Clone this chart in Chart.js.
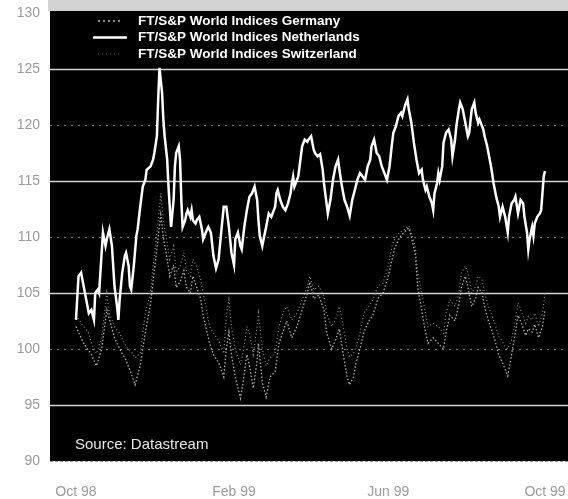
<!DOCTYPE html>
<html><head><meta charset="utf-8">
<script src="https://cdn.jsdelivr.net/npm/chart.js@4/dist/chart.umd.min.js"></script>
<style>html,body{margin:0;padding:0;background:#fff}canvas{display:block}</style>
</head><body>
<canvas id="c" width="568" height="499"></canvas>
<script>
// Series names (legend order)
const seriesNames = ['FT/S&P World Indices Germany', 'FT/S&P World Indices Netherlands', 'FT/S&P World Indices Switzerland'];
const sourceNote = 'Source: Datastream';
// x values: days since 1 Oct 1998
const tickDays = [0, 123, 243, 365];
const tickLabels = ['Oct 98', 'Feb 99', 'Jun 99', 'Oct 99'];
const yTicks = [90, 95, 100, 105, 110, 115, 120, 125, 130];

const nlDays = [0,2,4,6,8,10,12,14,15,17,
18,20,21,23,24,26,28,29,30,32,
33,34,36,38,39,41,42,43,45,47,
48,50,52,54,55,58,60,61,63,64,
65,67,68,69,71,72,73,74,76,77,
78,80,81,82,83,85,86,87,89,90,
91,93,94,96,98,99,101,103,105,107,
109,111,113,115,117,119,121,123,124,126,
128,129,131,133,135,137,139,141,142,143,
145,146,148,150,152,154,155,156,157,159,
161,163,165,167,168,169,170,173,174,176,
178,180,181,183,185,186,188,190,192,193,
195,196,198,200,202,204,205,207,209,211,
213,215,217,219,221,223,225,227,229,230,
232,234,236,238,240,242,244,246,247,249,
251,253,254,256,258,259,261,263,265,267,
269,270,272,273,275,277,278,279,281,282,
283,285,286,288,290,292,293,295,296,298,
299,301,303,305,306,308,310,311,313,314,
317,318,320,322,323,325,327,329,330,332,
334,336,337,339,341,342,344,346,348,349,
351,352,353,355,356,357,359,361,362,363,
364,365];
const nlValues = [102.6,106.5,106.8,105.6,104.4,103.2,103.5,102.6,105.0,105.3,
105.0,108.6,110.4,109.2,109.8,110.7,109.2,107.4,105.6,103.8,
102.6,104.4,106.8,108.3,108.6,107.4,105.6,105.3,107.4,110.1,
110.7,112.7,114.5,115.1,116.0,116.3,116.9,117.5,119.0,122.3,
125.1,122.9,120.5,119.0,116.9,114.5,112.7,110.9,113.3,116.3,
117.5,118.1,116.9,113.3,110.9,111.5,112.1,112.4,111.8,112.4,
111.5,111.2,111.5,111.8,110.7,109.8,110.4,110.9,110.4,108.3,
107.2,108.0,110.4,112.7,112.7,110.9,108.6,107.5,109.8,110.4,
109.2,108.9,110.9,112.4,113.6,113.9,114.5,113.3,111.5,110.1,
109.2,109.8,110.9,112.1,111.8,112.4,112.7,113.9,114.2,113.3,
112.7,112.4,113.0,113.9,114.8,115.4,114.5,115.4,116.3,118.1,
118.7,118.5,118.7,119.0,117.8,117.5,117.2,117.4,116.0,114.8,
113.0,112.1,113.3,115.1,116.3,116.9,116.0,114.5,113.3,112.7,
111.9,113.3,114.2,115.1,115.7,115.4,115.1,116.3,116.9,118.1,
118.7,117.5,117.2,116.3,115.7,115.1,116.3,118.4,119.3,119.9,
120.8,121.1,120.8,121.7,122.3,121.4,120.2,118.4,116.9,115.7,
116.0,115.1,114.2,114.5,113.6,113.0,112.4,113.9,114.8,115.7,
115.1,116.3,118.4,119.3,119.6,118.7,117.2,118.7,119.9,121.4,
122.0,121.4,120.2,119.0,119.3,121.4,122.0,121.1,120.2,120.5,
119.6,119.0,118.1,116.9,116.3,114.8,113.6,112.7,111.8,112.7,
111.8,110.4,111.8,113.0,113.3,113.6,112.1,113.3,113.0,111.8,
110.4,108.9,109.8,110.9,110.1,111.2,111.8,112.1,112.4,113.9,
115.4,115.9];

const chDays = [0,6,10,12,16,20,24,26,30,34,
39,43,46,50,54,58,60,64,66,68,
71,73,76,78,81,84,86,89,91,94,
97,99,102,104,107,111,115,117,119,121,
124,128,130,133,135,138,141,142,145,148,
151,155,158,161,164,168,172,176,180,182,
185,189,193,195,199,202,205,208,211,213,
216,218,221,224,228,231,235,239,243,246,
248,252,256,259,261,264,266,269,272,274,
278,282,286,288,291,295,298,300,303,305,
308,311,313,316,318,321,324,326,329,331,
334,336,339,342,344,347,350,352,355,357,
360,363,365];
const chValues = [103,102,101.4,100.5,99.6,101,105,103.2,102,101.4,
100.2,99.8,99.2,99.6,103.2,105,107.4,111.5,113.9,111.5,
109.5,108,109.2,106.8,107.4,108.6,107,106.5,108,107.4,
106.2,105,103.2,102,101.4,100.8,99.6,103,104.4,102,
100,98.6,99.6,102,101.4,99.5,102,103.2,100,98.5,
99.2,99.6,102,103.2,103.8,102.6,103.2,104.4,105.6,106.5,
105.3,105.6,104.7,103.2,102,102.6,103.8,102,100,99.3,
99.6,100.2,101.4,103.2,103.8,104.4,105.6,105.9,107.4,109.2,
109.8,110.4,110.7,111,110.4,109.2,106.8,105,103.2,102,
102.3,102,101.4,103.2,104.4,103.8,105,106.8,107.4,106.8,
105,105.6,106.5,106.2,105,103.8,102.9,102.3,101.1,100.8,
100.2,100,100.8,102.6,104.1,103.2,102.3,102.9,102.6,103.2,
102,103.2,105];

const deDays = [0,6,12,16,20,24,30,34,39,43,
46,50,54,58,60,64,66,68,71,73,
76,78,81,84,86,89,91,94,97,99,
102,104,107,111,115,117,119,121,124,128,
130,133,135,138,141,142,145,148,151,155,
158,161,164,168,172,176,180,182,185,189,
193,195,199,202,205,208,211,213,216,218,
221,224,228,231,235,239,243,246,248,252,
256,259,261,264,266,269,272,274,278,282,
286,288,291,295,298,300,303,305,308,311,
313,316,318,321,324,326,329,331,334,336,
339,342,344,347,350,352,355,357,360,363,
365];
const deValues = [102,100.5,99.5,98.5,100,103.5,101,100,99,97.8,
96.8,98.5,101.5,104,106,110,112,110,108,106.5,
107.5,105.5,106,107,105.5,105,106.5,105.5,104.5,103,
101.5,100.5,99.5,98.8,97.5,100,101.5,99.5,97.5,95.6,
97,99.5,98.5,96.5,99,100.5,97,95.7,97.5,98,
100.5,101.5,102.5,101,102,103.5,105,106,104.5,104.8,
103.5,101.5,100,100.8,101.8,99.5,97.5,96.8,97.5,98.8,
100,101.5,102.5,103,104.5,105,106.5,108,109,110,
110.5,110.8,110,108.5,105.5,103.5,101.5,100.5,101,100.5,
100,101.5,103,102.5,104,105.5,106.5,105.5,103.8,104.5,
105.5,105,103.8,102.5,101.5,100.8,99.5,99,98.2,97.6,
99.5,101.5,103,102.2,101.2,101.8,101.5,102.2,101,102,
103.5];

const toPoints = (xs, ys) => xs.map((x, i) => ({ x: x, y: ys[i] }));

const chartDecor = {
  id: 'chartDecor',
  beforeDraw(chart) {
    const { ctx, chartArea: a, scales: { y } } = chart;
    ctx.save();
    ctx.fillStyle = '#ffffff';
    ctx.fillRect(0, 0, chart.width, chart.height);
    ctx.fillStyle = '#d2d2d2';
    ctx.fillRect(a.left - 2, 0, a.right - a.left + 2, a.top - 2);
    ctx.fillStyle = '#000000';
    ctx.fillRect(a.left, a.top - 2, a.right - a.left, a.bottom - a.top + 2);
    yTicks.forEach(v => {
      if (v === 130) return;
      const py = Math.round(y.getPixelForValue(v)) + 0.5;
      ctx.beginPath();
      if (v % 10 === 5) {
        ctx.setLineDash([]);
        ctx.strokeStyle = '#d4d4d4';
        ctx.lineWidth = 1.4;
      } else if (v === 90) {
        ctx.setLineDash([3, 2]);
        ctx.strokeStyle = '#9a9a9a';
        ctx.lineWidth = 1;
      } else {
        ctx.setLineDash([2, 5]);
        ctx.strokeStyle = '#7a7a7a';
        ctx.lineWidth = 1;
      }
      ctx.moveTo(a.left, py);
      ctx.lineTo(a.right, py);
      ctx.stroke();
    });
    ctx.restore();
  },
  afterDatasetsDraw(chart) {
    const { ctx } = chart;
    ctx.save();
    const rows = [21, 37.5, 54];
    const styles = [
      { color: '#b4b4b4', width: 1.5, dash: [2, 3], x1: 98, x2: 120 },
      { color: '#ffffff', width: 2.4, dash: [], x1: 93, x2: 127 },
      { color: '#555555', width: 1, dash: [1, 3], x1: 98, x2: 120 }
    ];
    ctx.font = 'bold 13.5px "Liberation Sans", Arial, sans-serif';
    ctx.textBaseline = 'middle';
    ctx.textAlign = 'left';
    seriesNames.forEach((name, i) => {
      const s = styles[i];
      ctx.beginPath();
      ctx.setLineDash(s.dash);
      ctx.strokeStyle = s.color;
      ctx.lineWidth = s.width;
      ctx.moveTo(s.x1, rows[i]);
      ctx.lineTo(s.x2, rows[i]);
      ctx.stroke();
      ctx.fillStyle = '#ffffff';
      ctx.fillText(name, 138, rows[i]);
    });
    ctx.setLineDash([]);
    ctx.font = '15px "Liberation Sans", Arial, sans-serif';
    ctx.fillStyle = '#e6e6e6';
    ctx.fillText(sourceNote, 75, 445);
    ctx.restore();
  }
};

const noPad = s => { s.paddingLeft = 0; s.paddingRight = 0; s.paddingTop = 0; s.paddingBottom = 0; };

new Chart(document.getElementById('c'), {
  type: 'line',
  data: {
    datasets: [
      { label: seriesNames[0], data: toPoints(deDays, deValues), borderColor: '#b0b0b0', borderWidth: 1.3, borderDash: [1.5, 2], pointRadius: 0, order: 2 },
      { label: seriesNames[1], data: toPoints(nlDays, nlValues), borderColor: '#ffffff', borderWidth: 2.5, pointRadius: 0, order: 0 },
      { label: seriesNames[2], data: toPoints(chDays, chValues), borderColor: '#8e8e8e', borderWidth: 1.2, borderDash: [1, 2.5], pointRadius: 0, order: 1 }
    ]
  },
  options: {
    responsive: false,
    animation: false,
    devicePixelRatio: 1,
    layout: { padding: { top: 13, right: 0, left: 0, bottom: 0 } },
    plugins: { legend: { display: false }, tooltip: { enabled: false } },
    elements: { line: { tension: 0 } },
    scales: {
      x: {
        type: 'linear',
        min: -20.2,
        max: 382.9,
        grid: { display: false, drawTicks: false },
        border: { display: false },
        afterBuildTicks: s => { s.ticks = tickDays.map(v => ({ value: v })); },
        afterFit: s => { s.height = 38; noPad(s); },
        ticks: {
          autoSkip: false, maxRotation: 0, padding: 23,
          color: '#9a9a9a',
          font: { family: '"Liberation Sans", Arial, sans-serif', size: 14 },
          callback: v => { const i = tickDays.indexOf(v); return i >= 0 ? tickLabels[i] : ''; }
        }
      },
      y: {
        min: 90,
        max: 130,
        grid: { display: false, drawTicks: false },
        border: { display: false },
        afterBuildTicks: s => { s.ticks = yTicks.map(v => ({ value: v })); },
        afterFit: s => { s.width = 50; noPad(s); },
        ticks: {
          padding: 10,
          color: '#9a9a9a',
          font: { family: '"Liberation Sans", Arial, sans-serif', size: 14 }
        }
      }
    }
  },
  plugins: [chartDecor]
});
</script>
</body></html>
